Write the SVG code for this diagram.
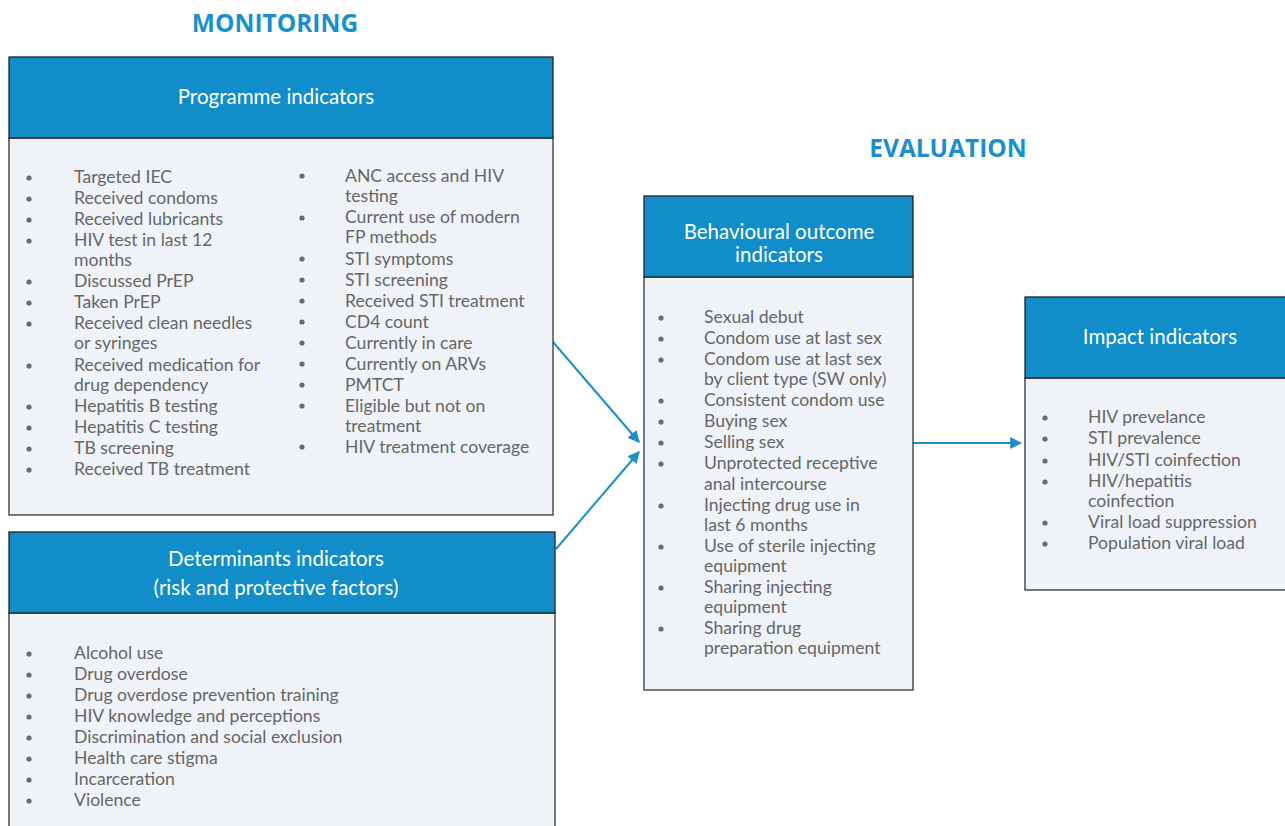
<svg xmlns="http://www.w3.org/2000/svg" width="1285" height="826" viewBox="0 0 1285 826">
<defs>
<style>
.title{font-family:"Open Sans","Liberation Sans",sans-serif;font-weight:bold;font-size:24.5px;fill:#1a8fcd;text-anchor:middle}
.hdr{fill:#118dc9;stroke:#222;stroke-width:1.3}
.body{fill:#eff3f8;stroke:#333;stroke-width:1.3}
.ht{font-family:Lato,"Open Sans",sans-serif;font-size:20.5px;fill:#ffffff;text-anchor:middle}
.it{font-family:Lato,"Open Sans",sans-serif;font-size:17.6px;fill:#666666}
.b{fill:#6a6a6a}
.conn{stroke:#1a8fcd;stroke-width:2;fill:none}
</style>
<marker id="ah" viewBox="0 0 10 10" refX="9" refY="5" markerWidth="6" markerHeight="6" markerUnits="strokeWidth" orient="auto">
<path d="M0,0 L10,5 L0,10 Z" fill="#1a8fcd"/>
</marker>
<symbol id="dot" overflow="visible"><circle cx="0" cy="0" r="2.6" class="b"/></symbol>
</defs>
<rect width="1285" height="826" fill="#ffffff"/>
<text class="title" x="275" y="32">MONITORING</text>
<text class="title" x="948" y="157">EVALUATION</text>

<g id="connectors">
<line class="conn" x1="553" y1="342" x2="639" y2="442" marker-end="url(#ah)"/>
<line class="conn" x1="556" y1="549" x2="639" y2="452" marker-end="url(#ah)"/>
<line class="conn" x1="913" y1="443" x2="1021" y2="443" marker-end="url(#ah)"/>
</g>

<g id="programme">
<rect class="body" x="9" y="138" width="544" height="377"/>
<rect class="hdr" x="9" y="57" width="544" height="81"/>
<text class="ht" x="276" y="104">Programme indicators</text>
<g class="it">
<text x="74" y="183">Targeted IEC</text>
<text x="74" y="204">Received condoms</text>
<text x="74" y="225">Received lubricants</text>
<text x="74" y="246">HIV test in last 12</text>
<text x="74" y="266">months</text>
<text x="74" y="287">Discussed PrEP</text>
<text x="74" y="308">Taken PrEP</text>
<text x="74" y="329">Received clean needles</text>
<text x="74" y="349">or syringes</text>
<text x="74" y="371">Received medication for</text>
<text x="74" y="391">drug dependency</text>
<text x="74" y="412">Hepatitis B testing</text>
<text x="74" y="433">Hepatitis C testing</text>
<text x="74" y="454">TB screening</text>
<text x="74" y="475">Received TB treatment</text>
<text x="345" y="182">ANC access and HIV</text>
<text x="345" y="202">testing</text>
<text x="345" y="223">Current use of modern</text>
<text x="345" y="243">FP methods</text>
<text x="345" y="265">STI symptoms</text>
<text x="345" y="286">STI screening</text>
<text x="345" y="307">Received STI treatment</text>
<text x="345" y="328">CD4 count</text>
<text x="345" y="349">Currently in care</text>
<text x="345" y="370">Currently on ARVs</text>
<text x="345" y="391">PMTCT</text>
<text x="345" y="412">Eligible but not on</text>
<text x="345" y="432">treatment</text>
<text x="345" y="453">HIV treatment coverage</text>
</g>
<g>
<use href="#dot" x="29" y="178"/><use href="#dot" x="29" y="199"/><use href="#dot" x="29" y="220"/><use href="#dot" x="29" y="241"/><use href="#dot" x="29" y="282"/><use href="#dot" x="29" y="303"/><use href="#dot" x="29" y="324"/><use href="#dot" x="29" y="366"/><use href="#dot" x="29" y="407"/><use href="#dot" x="29" y="428"/><use href="#dot" x="29" y="449"/><use href="#dot" x="29" y="470"/>
<use href="#dot" x="302" y="176"/><use href="#dot" x="302" y="218"/><use href="#dot" x="302" y="259"/><use href="#dot" x="302" y="280"/><use href="#dot" x="302" y="301"/><use href="#dot" x="302" y="322"/><use href="#dot" x="302" y="343"/><use href="#dot" x="302" y="364"/><use href="#dot" x="302" y="385"/><use href="#dot" x="302" y="406"/><use href="#dot" x="302" y="447"/>
</g>
</g>

<g id="determinants">
<rect class="body" x="9" y="613" width="546" height="220"/>
<rect class="hdr" x="9" y="532" width="546" height="81"/>
<text class="ht" x="276" y="566">Determinants indicators</text>
<text class="ht" x="276" y="595">(risk and protective factors)</text>
<g class="it">
<text x="74" y="659">Alcohol use</text>
<text x="74" y="680">Drug overdose</text>
<text x="74" y="701">Drug overdose prevention training</text>
<text x="74" y="722">HIV knowledge and perceptions</text>
<text x="74" y="743">Discrimination and social exclusion</text>
<text x="74" y="764">Health care stigma</text>
<text x="74" y="785">Incarceration</text>
<text x="74" y="806">Violence</text>
</g>
<g>
<use href="#dot" x="29" y="654"/><use href="#dot" x="29" y="675"/><use href="#dot" x="29" y="696"/><use href="#dot" x="29" y="717"/><use href="#dot" x="29" y="738"/><use href="#dot" x="29" y="759"/><use href="#dot" x="29" y="780"/><use href="#dot" x="29" y="801"/>
</g>
</g>

<g id="behavioural">
<rect class="body" x="644" y="277" width="269" height="413"/>
<rect class="hdr" x="644" y="196" width="269" height="81"/>
<text class="ht" x="779" y="239">Behavioural outcome</text>
<text class="ht" x="779" y="262">indicators</text>
<g class="it">
<text x="704" y="323">Sexual debut</text>
<text x="704" y="344">Condom use at last sex</text>
<text x="704" y="365">Condom use at last sex</text>
<text x="704" y="385">by client type (SW only)</text>
<text x="704" y="406">Consistent condom use</text>
<text x="704" y="427">Buying sex</text>
<text x="704" y="448">Selling sex</text>
<text x="704" y="469">Unprotected receptive</text>
<text x="704" y="490">anal intercourse</text>
<text x="704" y="511">Injecting drug use in</text>
<text x="704" y="531">last 6 months</text>
<text x="704" y="552">Use of sterile injecting</text>
<text x="704" y="572">equipment</text>
<text x="704" y="593">Sharing injecting</text>
<text x="704" y="613">equipment</text>
<text x="704" y="634">Sharing drug</text>
<text x="704" y="654">preparation equipment</text>
</g>
<g>
<use href="#dot" x="661" y="318"/><use href="#dot" x="661" y="339"/><use href="#dot" x="661" y="360"/><use href="#dot" x="661" y="401"/><use href="#dot" x="661" y="422"/><use href="#dot" x="661" y="443"/><use href="#dot" x="661" y="464"/><use href="#dot" x="661" y="506"/><use href="#dot" x="661" y="547"/><use href="#dot" x="661" y="588"/><use href="#dot" x="661" y="629"/>
</g>
</g>

<g id="impact">
<rect class="body" x="1025" y="378" width="265" height="212"/>
<rect class="hdr" x="1025" y="297" width="265" height="81"/>
<text class="ht" x="1160" y="344">Impact indicators</text>
<g class="it">
<text x="1088" y="423">HIV prevelance</text>
<text x="1088" y="444">STI prevalence</text>
<text x="1088" y="466">HIV/STI coinfection</text>
<text x="1088" y="487">HIV/hepatitis</text>
<text x="1088" y="507">coinfection</text>
<text x="1088" y="528">Viral load suppression</text>
<text x="1088" y="549">Population viral load</text>
</g>
<g>
<use href="#dot" x="1045" y="418"/><use href="#dot" x="1045" y="439"/><use href="#dot" x="1045" y="461"/><use href="#dot" x="1045" y="482"/><use href="#dot" x="1045" y="523"/><use href="#dot" x="1045" y="544"/>
</g>
</g>
</svg>
